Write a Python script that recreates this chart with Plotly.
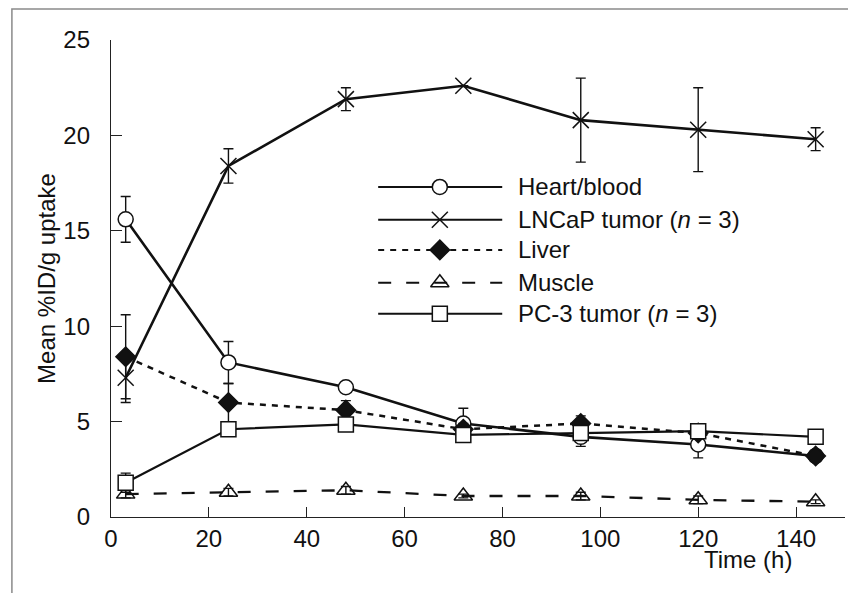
import plotly.graph_objects as go

time_h = [3, 24, 48, 72, 96, 120, 144]

heart = [15.6, 8.1, 6.8, 4.9, 4.2, 3.8, 3.2]
heart_err = [1.2, 1.1, 0.2, 0.8, 0.5, 0.7, 0.2]

lncap = [7.3, 18.4, 21.9, 22.6, 20.8, 20.3, 19.8]
lncap_err = [1.3, 0.9, 0.6, 0.0, 2.2, 2.2, 0.6]

liver = [8.4, 6.0, 5.6, 4.6, 4.9, 4.4, 3.2]
liver_err = [2.2, 1.0, 0.5, 0.3, 0.4, 0.3, 0.3]

muscle = [1.2, 1.3, 1.4, 1.1, 1.1, 0.9, 0.8]
muscle_err = [0.2, 0.2, 0.2, 0.1, 0.2, 0.2, 0.1]

pc3 = [1.8, 4.6, 4.85, 4.3, 4.4, 4.5, 4.2]
pc3_err = [0.5, 0.3, 0.3, 0.3, 0.2, 0.2, 0.2]

series_names = ["Heart/blood", "LNCaP tumor (<i>n</i> = 3)", "Liver", "Muscle", "PC-3 tumor (<i>n</i> = 3)"]

FONT = "Liberation Sans, Arial, sans-serif"
BLACK = "#111111"
FS = 24

styles = [
    dict(dash="solid", symbol="circle", fill="white", size=15, lw=2.6),
    dict(dash="solid", symbol="x-thin", fill=BLACK, size=16, lw=2.6),
    dict(dash="6px,6px", symbol="diamond", fill=BLACK, size=15, lw=2.5),
    dict(dash="13px,15px", symbol="triangle-up-open", fill=BLACK, size=16, lw=2.3),
    dict(dash="solid", symbol="square", fill="white", size=15, lw=2.2),
]
values = [heart, lncap, liver, muscle, pc3]
errors = [heart_err, lncap_err, liver_err, muscle_err, pc3_err]

fig = go.Figure()
for name, vals, errs, st in zip(series_names, values, errors, styles):
    fig.add_trace(go.Scatter(
        x=time_h, y=vals, name=name, mode="lines+markers",
        line=dict(color=BLACK, width=st["lw"], dash=st["dash"]),
        marker=dict(symbol=st["symbol"], size=st["size"], color=st["fill"],
                    line=dict(color=BLACK, width=1.5)),
        error_y=dict(type="data", array=errs, visible=True, color=BLACK,
                     thickness=1.4, width=5),
        showlegend=False,
    ))

# Custom legend on a hidden overlay axis
legend_rows = [0.692, 0.623, 0.560, 0.491, 0.426]
for name, st, yy in zip(series_names, styles, legend_rows):
    fig.add_trace(go.Scatter(
        x=[0.364, 0.533], y=[yy, yy], mode="lines", xaxis="x2", yaxis="y2",
        line=dict(color=BLACK, width=2.0, dash=st["dash"]), showlegend=False,
        hoverinfo="skip"))
    fig.add_trace(go.Scatter(
        x=[0.448], y=[yy], mode="markers", xaxis="x2", yaxis="y2",
        marker=dict(symbol=st["symbol"], size=st["size"], color=st["fill"],
                    line=dict(color=BLACK, width=1.5)),
        showlegend=False, hoverinfo="skip"))
    fig.add_annotation(x=0.552, y=yy, xref="paper", yref="paper", text=name,
                       showarrow=False, xanchor="left", yanchor="middle",
                       font=dict(family=FONT, size=FS, color="#111"))

fig.add_annotation(x=0.868, y=-0.090, xref="paper", yref="paper", text="Time (h)",
                   showarrow=False, xanchor="center", yanchor="middle",
                   font=dict(family=FONT, size=FS, color="#111"))
fig.add_annotation(x=-0.088, y=0.5, xref="paper", yref="paper", text="Mean %ID/g uptake",
                   showarrow=False, textangle=-90, xanchor="center", yanchor="middle",
                   font=dict(family=FONT, size=FS, color="#111"))

# outer frame
fig.add_shape(type="rect", xref="paper", yref="paper", x0=-0.135, x1=1.05, y0=-0.25, y1=1.065,
              line=dict(color="#8a8a8a", width=1.5), fillcolor="rgba(0,0,0,0)", layer="below")

fig.update_layout(
    width=848, height=585,
    margin=dict(l=103, r=11, t=32, b=76),
    paper_bgcolor="white", plot_bgcolor="white",
    font=dict(family=FONT, size=FS, color="#111"),
    xaxis=dict(range=[0, 150], tickvals=[0, 20, 40, 60, 80, 100, 120, 140],
               ticks="inside", ticklen=10, tickwidth=1.3, tickcolor="#222",
               showline=True, linecolor="#222", linewidth=1.4, showgrid=False,
               zeroline=False, ticklabelstandoff=0, tickfont=dict(size=FS)),
    yaxis=dict(range=[0, 25], tickvals=[0, 5, 10, 15, 20, 25],
               ticks="inside", ticklen=11, tickwidth=1.3, tickcolor="#222",
               showline=True, linecolor="#222", linewidth=1.4, showgrid=False,
               zeroline=False, ticklabelstandoff=15, tickfont=dict(size=FS)),
    xaxis2=dict(range=[0, 1], overlaying="x", visible=False, fixedrange=True),
    yaxis2=dict(range=[0, 1], overlaying="y", visible=False, fixedrange=True),
)

fig.write_html("out.html")
